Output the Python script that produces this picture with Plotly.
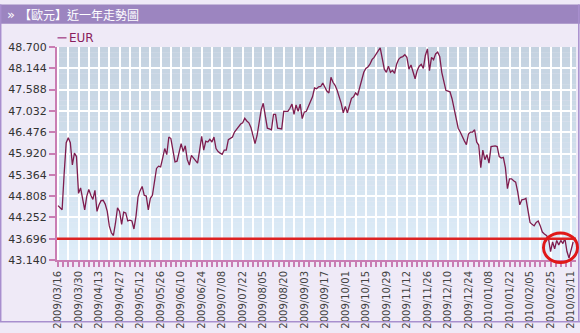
import plotly.graph_objects as go

# EUR daily quotes, one value per trading day from 2009/03/16 to 2010/03/12
eur = [
    44.56, 44.50, 44.45, 45.40, 46.20, 46.33, 46.20, 45.62, 45.93, 45.84,
    44.88, 45.02, 44.70, 44.45, 44.80, 44.98, 44.83, 44.72, 44.96, 44.41,
    44.58, 44.69, 44.70, 44.60, 44.41, 44.03, 43.85, 43.78, 44.10, 44.50,
    44.41, 44.07, 44.39, 44.37, 44.16, 44.18, 44.16, 43.95, 44.28, 44.79,
    44.95, 45.06, 44.83, 44.81, 44.45, 44.75, 44.83, 45.15, 45.53, 45.59,
    45.57, 45.80, 46.05, 45.89, 46.35, 46.31, 46.05, 45.70, 45.72, 46.00,
    46.18, 45.97, 46.12, 45.76, 45.62, 45.87, 45.80, 45.72, 45.67, 46.00,
    46.37, 46.01, 46.24, 46.22, 46.29, 46.22, 46.35, 46.05, 45.97, 45.93,
    45.90, 46.01, 46.01, 46.28, 46.32, 46.35, 46.48, 46.55, 46.65, 46.69,
    46.72, 46.84, 46.77, 46.72, 46.60, 46.40, 46.18, 46.39, 46.80, 47.06,
    47.23, 46.90, 46.58, 46.56, 46.54, 46.94, 46.94, 46.58, 46.57, 46.56,
    47.02, 47.02, 47.02, 47.10, 47.21, 46.94, 47.19, 47.02, 47.21, 46.83,
    47.00, 47.02, 47.15, 47.23, 47.40, 47.63, 47.61, 47.66, 47.67, 47.76,
    47.66, 47.55, 47.50, 47.91, 47.78, 47.70, 47.57, 47.40, 47.23, 46.98,
    47.15, 46.98, 47.20, 47.36, 47.40, 47.50, 47.44, 47.66, 47.90, 48.04,
    48.14, 48.18, 48.25, 48.37, 48.43, 48.50, 48.60, 48.68, 48.41, 48.12,
    48.04, 48.20, 48.04, 48.09, 48.01, 48.25, 48.38, 48.43, 48.45, 48.50,
    48.43, 48.12, 48.23, 48.04, 47.87, 48.08, 48.20, 48.25, 48.14, 48.48,
    48.65, 48.08, 48.43, 48.37, 48.52, 48.57, 48.45, 48.04, 47.78, 47.57,
    47.55, 47.53, 47.35, 47.10, 46.90, 46.58, 46.48, 46.35, 46.25, 46.15,
    46.43, 46.48, 46.48, 46.54, 46.22, 46.14, 45.55, 46.01, 45.76, 45.89,
    45.67, 46.10, 46.12, 46.12, 46.10, 45.84, 45.80, 45.82, 45.55, 45.00,
    45.26, 45.26, 45.21, 45.17, 44.92, 44.58, 44.71, 44.72, 44.75, 44.45,
    44.12, 44.07, 44.03, 44.12, 44.16, 44.03, 43.87, 43.82, 43.78, 43.70,
    43.36, 43.61, 43.43, 43.65, 43.53, 43.65, 43.57, 43.70, 43.36, 43.19,
    43.40, 43.61,
]

# dates printed under the axis, one every ten trading days
date_labels = [
    "2009/03/16", "2009/03/30", "2009/04/13", "2009/04/27", "2009/05/12",
    "2009/05/26", "2009/06/10", "2009/06/24", "2009/07/08", "2009/07/22",
    "2009/08/05", "2009/08/20", "2009/09/03", "2009/09/17", "2009/10/01",
    "2009/10/15", "2009/10/29", "2009/11/12", "2009/11/26", "2009/12/10",
    "2009/12/24", "2010/01/08", "2010/01/22", "2010/02/05", "2010/02/25",
    "2010/03/11",
]
label_step = 10

y_ticks = [43.140, 43.696, 44.252, 44.808, 45.364, 45.920,
           46.476, 47.032, 47.588, 48.144, 48.700]
ref_level = 43.696

W, H = 580, 333
L, R, T, B = 57, 4, 47, 66
PW, PH = W - L - R, H - T - B


def px(xp):
    return (xp - L) / PW


def py(yp):
    return (H - B - yp) / PH


days = list(range(len(eur)))
grid_vals = list(range(0, label_step * (len(date_labels) - 1) + 1, label_step // 2))
grid_text = [date_labels[v // label_step] if v % label_step == 0 else "" for v in grid_vals]

fig = go.Figure()
fig.add_trace(go.Scatter(
    x=days, y=eur, mode="lines", name="EUR",
    line=dict(color="#7e1c4e", width=1.3),
    showlegend=False,
))

shapes = []
# vertical colour gradient behind the plot area
top_c = (196, 210, 224)
bot_c = (222, 237, 249)
n = 40
for k in range(n):
    t = k / (n - 1)
    c = tuple(round(bot_c[j] + (top_c[j] - bot_c[j]) * t) for j in range(3))
    shapes.append(dict(
        type="rect", xref="x domain", yref="y domain", layer="below",
        x0=0, x1=1, y0=k / n, y1=(k + 1) / n,
        fillcolor="rgb(%d,%d,%d)" % c, line=dict(width=0),
    ))

# header bar
shapes.append(dict(type="rect", xref="paper", yref="paper",
                   x0=px(0), x1=px(W), y0=py(23), y1=py(3),
                   fillcolor="#9c85c0", line=dict(width=0), layer="above"))
# frame around the widget
frame = "#a88fce"
shapes.append(dict(type="line", xref="paper", yref="paper",
                   x0=px(0.7), x1=px(0.7), y0=py(3), y1=py(331),
                   line=dict(color=frame, width=1.5)))
shapes.append(dict(type="line", xref="paper", yref="paper",
                   x0=px(578.8), x1=px(578.8), y0=py(3), y1=py(331),
                   line=dict(color=frame, width=1.5)))
shapes.append(dict(type="line", xref="paper", yref="paper",
                   x0=px(0), x1=px(W), y0=py(330.8), y1=py(330.8),
                   line=dict(color=frame, width=1.5)))

# reference level
shapes.append(dict(type="line", xref="x domain", yref="y",
                   x0=0, x1=1, y0=ref_level, y1=ref_level,
                   line=dict(color="#dd2222", width=2.5), layer="above"))
# highlight ring around the latest quotes
shapes.append(dict(type="circle", xref="paper", yref="paper",
                   x0=px(543.5), x1=px(577.5), y0=py(269.5), y1=py(239),
                   line=dict(color="#e01818", width=3), layer="above"))
# legend swatch
shapes.append(dict(type="line", xref="paper", yref="paper",
                   x0=px(57.5), x1=px(66.5), y0=py(37.5), y1=py(37.5),
                   line=dict(color="#b0609a", width=1.6)))

annotations = [
    dict(xref="paper", yref="paper", x=px(5), y=py(13.5), xanchor="left",
         yanchor="middle", showarrow=False, text="»",
         font=dict(family="DejaVu Sans", size=13, color="#ffffff")),
    dict(xref="paper", yref="paper", x=px(17), y=py(13.5), xanchor="left",
         yanchor="middle", showarrow=False, text="【歐元】近一年走勢圖",
         font=dict(family="Noto Sans CJK TC", size=12, color="#ffffff")),
    dict(xref="paper", yref="paper", x=px(67), y=py(37.5), xanchor="left",
         yanchor="middle", showarrow=False, text="EUR",
         font=dict(family="DejaVu Sans", size=12, color="#8a1c5c")),
]

axis_pink = "#c97db3"
fig.update_layout(
    width=W, height=H,
    margin=dict(l=L, r=R, t=T, b=B, pad=0),
    paper_bgcolor="#efeaf7",
    plot_bgcolor="rgba(0,0,0,0)",
    font=dict(family="DejaVu Sans", size=11, color="#333333"),
    shapes=shapes,
    annotations=annotations,
    xaxis=dict(
        range=[-0.49, 252.4],
        tickmode="array", tickvals=grid_vals, ticktext=grid_text,
        tickangle=-90, tickfont=dict(size=10, color="#444444"),
        ticks="outside", ticklen=5, tickwidth=1.5, tickcolor=axis_pink,
        showgrid=True, gridcolor="#ffffff", gridwidth=1.5,
        showline=True, linecolor=axis_pink, linewidth=2,
        zeroline=False,
        minor=dict(dtick=label_step / 4, tick0=0, ticks="outside", ticklen=5,
                   tickwidth=1.5, tickcolor=axis_pink, showgrid=False),
    ),
    yaxis=dict(
        range=[y_ticks[0], y_ticks[-1]],
        tickmode="array", tickvals=y_ticks,
        ticktext=["%.3f" % v for v in y_ticks],
        tickfont=dict(size=11, color="#333333"),
        ticks="outside", ticklen=6, tickwidth=1.5, tickcolor=axis_pink,
        showgrid=True, gridcolor="#ffffff", gridwidth=1.5,
        showline=True, linecolor=axis_pink, linewidth=2,
        zeroline=False,
    ),
)

fig.write_html("out.html")
